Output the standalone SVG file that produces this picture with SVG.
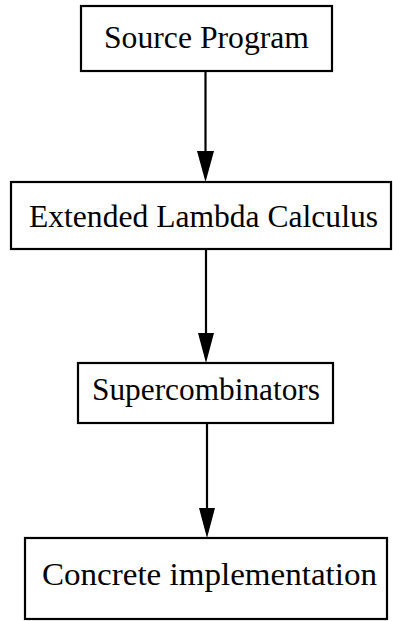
<svg xmlns="http://www.w3.org/2000/svg" width="393" height="621" viewBox="0 0 393 621">
<style>
.box{fill:#fff;stroke:#000;stroke-width:2.2}
.lbl{font-family:"Liberation Serif","Times New Roman",serif;font-size:31px;fill:#000;text-anchor:middle}
.edge{stroke:#000;stroke-width:2.2;fill:none}
.head{fill:#000;stroke:none}
</style>
<rect width="393" height="621" fill="#fff"/>
<g id="connectors">
<line class="edge" x1="205.5" y1="71" x2="205.5" y2="160"/>
<polygon class="head" points="197,151 214,151 205.5,182"/>
<line class="edge" x1="206" y1="249" x2="206" y2="340"/>
<polygon class="head" points="198,333 214,333 206,363"/>
<line class="edge" x1="207" y1="423" x2="207" y2="515"/>
<polygon class="head" points="199,508 215,508 207,538"/>
</g>
<g id="source">
<rect class="box" x="81" y="6" width="251" height="65"/>
<text class="lbl" x="206.5" y="48" textLength="205" lengthAdjust="spacingAndGlyphs">Source Program</text>
</g>
<g id="lambda">
<rect class="box" x="11" y="182" width="380" height="67"/>
<text class="lbl" x="203.5" y="227" textLength="349" lengthAdjust="spacingAndGlyphs">Extended Lambda Calculus</text>
</g>
<g id="super">
<rect class="box" x="78" y="363" width="255" height="60"/>
<text class="lbl" x="206" y="400" textLength="228" lengthAdjust="spacingAndGlyphs">Supercombinators</text>
</g>
<g id="concrete">
<rect class="box" x="25" y="538" width="362" height="81"/>
<text class="lbl" x="209.5" y="585" textLength="335" lengthAdjust="spacingAndGlyphs">Concrete implementation</text>
</g>
</svg>
